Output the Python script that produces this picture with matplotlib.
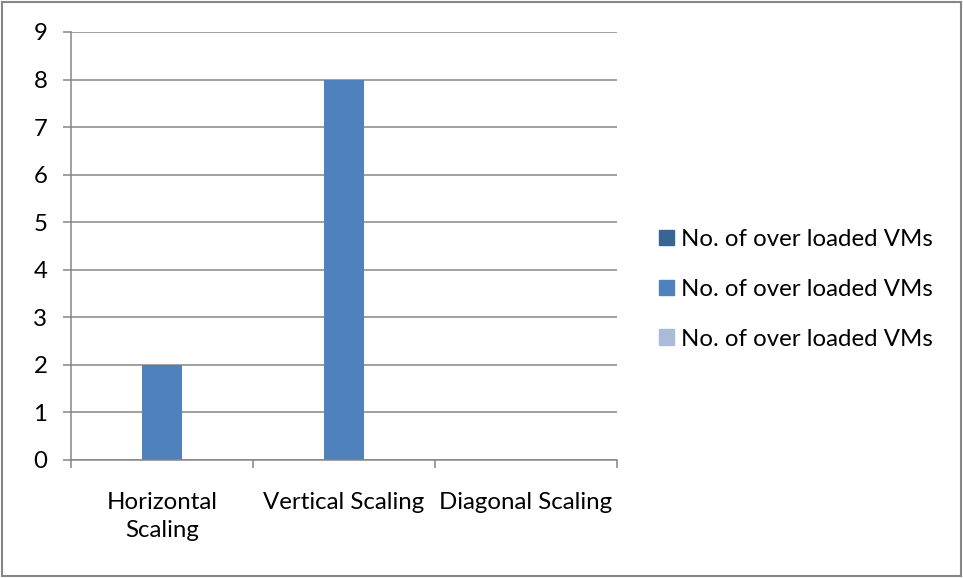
import matplotlib
matplotlib.use('Agg')
import matplotlib.pyplot as plt
import matplotlib.patches as mpatches
import numpy as np

plt.rcParams['font.family'] = ['Lato', 'DejaVu Sans']

# data
categories = ["Horizontal\nScaling", "Vertical Scaling", "Diagonal Scaling"]
series_names = ["No. of over loaded VMs", "No. of over loaded VMs", "No. of over loaded VMs"]
series1 = [0, 0, 0]
series2 = [2, 8, 0]
series3 = [0, 0, 0]
colors = ['#3B6496', '#4F81BD', '#A9BBD9']

W, H = 963, 578
fig = plt.figure(figsize=(W / 100, H / 100), dpi=100)
ax = fig.add_axes([71 / W, 1 - 460 / H, (617 - 71) / W, (460 - 32) / H])

GRID = '#868686'
FS = 17.3

x = np.arange(len(categories))
w = 0.222
for k, (vals, c) in enumerate(zip([series1, series2, series3], colors)):
    ax.bar(x + (k - 1) * w, vals, w, color=c, zorder=2)

ax.set_xlim(-0.5, 2.5)
ax.set_ylim(0, 9)
ax.set_yticks(range(0, 10))
ax.yaxis.grid(True, color=GRID, lw=1.1)
ax.set_axisbelow(True)

ax.set_xticks(x)
ax.set_xticklabels(categories, fontsize=FS, linespacing=1.4)
ax.set_xticks([-0.5, 0.5, 1.5, 2.5], minor=True)
ax.tick_params(axis='x', which='major', length=0, pad=23)
ax.tick_params(axis='x', which='minor', length=6, width=1.1, color=GRID, direction='out')
ax.tick_params(axis='y', length=6, width=1.1, color=GRID, pad=11, labelsize=FS)

for s in ['top', 'right']:
    ax.spines[s].set_visible(False)
for s in ['left', 'bottom']:
    ax.spines[s].set_color(GRID)
    ax.spines[s].set_linewidth(1.1)

handles = [mpatches.Patch(color=c) for c in colors]
fig.legend(handles, series_names, loc='upper left',
           bbox_to_anchor=(659 / W, 1 - 229 / H), frameon=False, fontsize=FS,
           handlelength=0.63, handleheight=0.63, handletextpad=0.3,
           labelspacing=1.2, borderpad=0, borderaxespad=0)

# outer chart border
fig.add_artist(mpatches.Rectangle((2 / W, 2 / H), 1 - 4 / W, 1 - 4 / H,
                                  transform=fig.transFigure, fill=False,
                                  edgecolor=GRID, lw=1.5))

fig.savefig('out.png', dpi=100)
